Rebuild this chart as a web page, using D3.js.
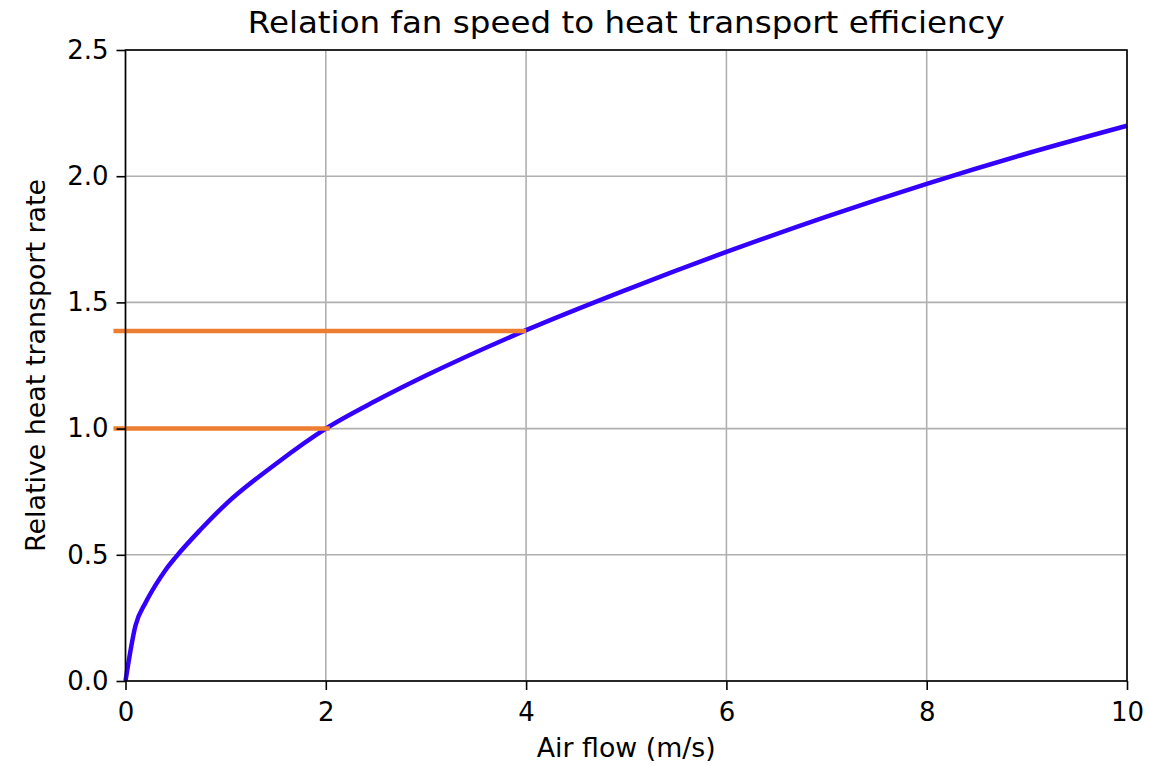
<!DOCTYPE html>
<html>
<head>
<meta charset="utf-8">
<script src="https://cdn.jsdelivr.net/npm/d3@7"></script>
<style>
  body { margin: 0; background: #fff; }
  text { font-family: "DejaVu Sans", sans-serif; fill: #000; }
</style>
</head>
<body>
<div id="chart"></div>
<script>
// size of the page and the plot area
var width = 1150,
    height = 766;
var margin = {top: 50, right: 23, bottom: 85, left: 125.5};

// data
var airFlow = [0, 0.1, 0.2, 0.3, 0.4, 0.5, 0.75, 1, 1.5, 2, 2.5, 3, 4, 5, 6, 7, 8, 9, 10];
var heatRate = [0, 0.22, 0.31, 0.38, 0.44, 0.49, 0.60, 0.70, 0.86, 1.0, 1.11, 1.21, 1.39, 1.55, 1.70, 1.84, 1.97, 2.09, 2.20];

// orange marker lines: level, start, end
var markLevel = [1.0, 1.387];
var markStart = [-0.12, -0.12];
var markEnd = [2.04, 4.0];

var xTicks = [0, 2, 4, 6, 8, 10];
var yTicks = [0, 0.5, 1.0, 1.5, 2.0, 2.5];

var svg = d3.select("#chart").append("svg")
    .attr("width", width)
    .attr("height", height);

var x = d3.scaleLinear()
    .domain([0, 10])
    .range([margin.left, width - margin.right]);
var y = d3.scaleLinear()
    .domain([0, 2.5])
    .range([height - margin.bottom, margin.top]);

// grid
svg.append("g").selectAll("line")
    .data(xTicks).enter().append("line")
    .attr("x1", function(d){ return x(d); })
    .attr("x2", function(d){ return x(d); })
    .attr("y1", y(0)).attr("y2", y(2.5))
    .style("stroke", "#b0b0b0").style("stroke-width", 1.6);
svg.append("g").selectAll("line")
    .data(yTicks).enter().append("line")
    .attr("x1", x(0)).attr("x2", x(10))
    .attr("y1", function(d){ return y(d); })
    .attr("y2", function(d){ return y(d); })
    .style("stroke", "#b0b0b0").style("stroke-width", 1.6);

// curve
var pts = airFlow.map(function(v, i){ return [v, heatRate[i]]; });
var line = d3.line()
    .x(function(d){ return x(d[0]); })
    .y(function(d){ return y(d[1]); })
    .curve(d3.curveMonotoneX);

svg.append("path")
    .datum(pts)
    .attr("d", line)
    .style("fill", "none")
    .style("stroke", "#3300ff")
    .style("stroke-width", 4.5);

// orange lines
svg.append("g").selectAll("line")
    .data(markLevel).enter().append("line")
    .attr("x1", function(d, i){ return x(markStart[i]); })
    .attr("x2", function(d, i){ return x(markEnd[i]); })
    .attr("y1", function(d){ return y(d); })
    .attr("y2", function(d){ return y(d); })
    .style("stroke", "#ed7d31")
    .style("stroke-width", 4.5);

// axes
var xAxis = d3.axisBottom(x).tickValues(xTicks).tickSize(9).tickPadding(13)
    .tickFormat(d3.format("d"));
var yAxis = d3.axisLeft(y).tickValues(yTicks).tickSize(9).tickPadding(8)
    .tickFormat(d3.format(".1f"));

var gx = svg.append("g")
    .attr("transform", "translate(0," + y(0) + ")")
    .call(xAxis);
var gy = svg.append("g")
    .attr("transform", "translate(" + x(0) + ",0)")
    .call(yAxis);

[gx, gy].forEach(function(g){
    g.select(".domain").remove();
    g.selectAll(".tick line").style("stroke", "#000").style("stroke-width", 1.6);
    g.selectAll(".tick text").style("font-size", "26px").style("font-family", "DejaVu Sans");
});

// frame
svg.append("rect")
    .attr("x", x(0)).attr("y", y(2.5))
    .attr("width", x(10) - x(0)).attr("height", y(0) - y(2.5))
    .style("fill", "none").style("stroke", "#000").style("stroke-width", 1.6);

// labels
svg.append("text")
    .attr("x", (x(0) + x(10)) / 2).attr("y", 33)
    .attr("text-anchor", "middle")
    .style("font-size", "31px")
    .attr("textLength", 757)
    .attr("lengthAdjust", "spacingAndGlyphs")
    .text("Relation fan speed to heat transport efficiency");

svg.append("text")
    .attr("x", (x(0) + x(10)) / 2).attr("y", 757)
    .attr("text-anchor", "middle")
    .style("font-size", "26px")
    .attr("textLength", 179)
    .attr("lengthAdjust", "spacingAndGlyphs")
    .text("Air flow (m/s)");

svg.append("text")
    .attr("transform", "translate(45," + (y(0) + y(2.5)) / 2 + ") rotate(-90)")
    .attr("text-anchor", "middle")
    .style("font-size", "26px")
    .attr("textLength", 373)
    .attr("lengthAdjust", "spacingAndGlyphs")
    .text("Relative heat transport rate");
</script>
</body>
</html>
